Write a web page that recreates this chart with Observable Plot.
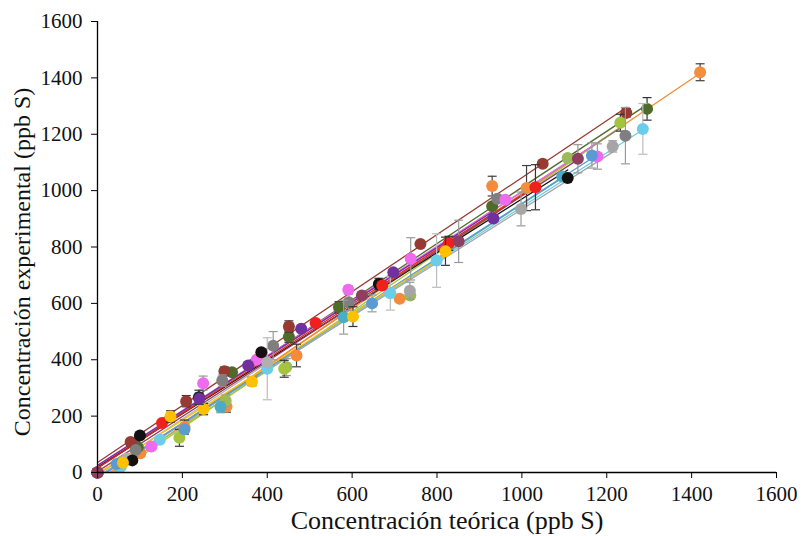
<!DOCTYPE html>
<html>
<head>
<meta charset="utf-8">
<script src="https://cdn.jsdelivr.net/npm/d3@7"></script>
<script src="https://cdn.jsdelivr.net/npm/@observablehq/plot@0.6"></script>
<style>
  html, body { margin: 0; padding: 0; background: #fff; }
  #chart { width: 809px; height: 536px; }
</style>
</head>
<body>
<div id="chart"></div>
<script>
// ---- Data ----
const xTitle = "Concentración teórica (ppb S)";
const yTitle = "Concentración experimental (ppb S)";
const xTicks = [0, 200, 400, 600, 800, 1000, 1200, 1400, 1600];
const yTicks = [0, 200, 400, 600, 800, 1000, 1200, 1400, 1600];

const seriesNames = ["naranja1","naranja2","verdeOscuro","marron","verde","lima","gris","celeste","aqua","grisClaro","rosa","azul","blanco","negro","rojo","amarillo","morado","granate"];
const seriesColors = ["#F28E3C","#F58A3A","#4E6B2A","#963A32","#9BBB59","#A4C43C","#7F7F7F","#6CCDE8","#4BACC6","#A6A6A6","#EE6AEE","#5B9BD5","#B0B0B0","#111111","#F0201C","#FFC000","#7030A0","#8E3E5E"];
const errColors = ["#404040","#404040","#333333","#333333","#999999","#333333","#999999","#BBBBBB","#999999","#999999","#999999","#999999","#999999","#333333","#333333","#333333","#333333","#999999"];

const xValues = [
  [0, 48, 304, 1011, 1420],
  [0, 101, 205, 469, 712, 930],
  [0, 95, 317, 451, 569, 930, 1295],
  [0, 78, 209, 299, 451, 761, 1049, 1246],
  [0, 60, 302, 445, 737, 1108],
  [0, 193, 440, 1232],
  [0, 90, 294, 414, 592, 942, 1244],
  [0, 55, 147, 400, 690, 799, 1285],
  [0, 290, 580, 1095],
  [0, 736, 998, 1214],
  [0, 127, 249, 375, 591, 738, 961, 1178],
  [0, 45, 205, 647, 1165],
  [0, 70, 400],
  [0, 82, 100, 239, 386, 663, 1108],
  [0, 152, 514, 671, 828, 1032],
  [0, 60, 172, 250, 364, 602, 820],
  [0, 240, 355, 480, 697, 933],
  [0, 623, 851, 1132]
];
const yValues = [
  [0, 25, 234, 1009, 1420],
  [0, 68, 161, 415, 616, 1016],
  [0, 90, 356, 482, 586, 945, 1290],
  [0, 108, 253, 359, 518, 811, 1095, 1276],
  [0, 40, 255, 374, 628, 1116],
  [0, 123, 368, 1241],
  [0, 80, 326, 450, 604, 971, 1195],
  [0, 20, 116, 368, 636, 752, 1219],
  [0, 232, 551, 1050],
  [0, 645, 935, 1157],
  [0, 92, 317, 400, 648, 758, 968, 1121],
  [0, 30, 153, 600, 1125],
  [0, 50, 390],
  [0, 43, 131, 267, 427, 669, 1045],
  [0, 176, 530, 663, 813, 1012],
  [0, 35, 199, 225, 323, 553, 785],
  [0, 262, 380, 510, 710, 901],
  [0, 628, 820, 1113]
];
const yErrors = [
  [0, 0, 20, 80, 30],
  [0, 0, 25, 40, 0, 35],
  [0, 0, 0, 20, 20, 0, 40],
  [0, 0, 20, 15, 20, 0, 10, 15],
  [0, 0, 20, 30, 0, 0],
  [0, 30, 30, 30],
  [0, 0, 20, 50, 30, 0, 100],
  [0, 0, 0, 110, 60, 95, 90],
  [0, 20, 60, 0],
  [0, 30, 60, 20],
  [0, 0, 25, 0, 15, 75, 0, 45],
  [0, 0, 0, 30, 45],
  [0, 0, 0],
  [0, 0, 0, 25, 0, 20, 0],
  [0, 0, 0, 0, 25, 80],
  [0, 0, 20, 20, 15, 35, 50],
  [0, 20, 0, 0, 10, 0],
  [0, 0, 75, 50]
];

// ---- Build ----
const series = seriesNames.map((name, i) => ({
  name, color: seriesColors[i], err: errColors[i],
  pts: xValues[i].map((x, j) => ({x, y: yValues[i][j], e: yErrors[i][j]}))
}));

const capSymbol = {
  draw(ctx, size) {
    const w = Math.sqrt(size / Math.PI);
    ctx.moveTo(-w, 0);
    ctx.lineTo(w, 0);
  }
};

const marks = [];
for (const s of series) {
  marks.push(Plot.linearRegressionY(s.pts, {x: "x", y: "y", stroke: s.color, strokeWidth: 1.3, ci: 0, clip: true}));
}
for (const s of series) {
  const withErr = s.pts.filter(d => d.e > 0);
  marks.push(Plot.ruleX(withErr, {x: "x", y1: d => d.y - d.e, y2: d => d.y + d.e, stroke: s.err, strokeWidth: 1.2}));
  marks.push(Plot.dot(withErr, {x: "x", y: d => d.y + d.e, symbol: capSymbol, r: 4.5, stroke: s.err, strokeWidth: 1.2, fill: "none"}));
  marks.push(Plot.dot(withErr, {x: "x", y: d => d.y - d.e, symbol: capSymbol, r: 4.5, stroke: s.err, strokeWidth: 1.2, fill: "none"}));
  marks.push(Plot.dot(s.pts, {x: "x", y: "y", r: 6, fill: s.color, stroke: "none"}));
}

marks.push(Plot.ruleX([0], {stroke: "#000", strokeWidth: 1.3}));
marks.push(Plot.ruleY([0], {stroke: "#000", strokeWidth: 1.3}));
marks.push(Plot.axisX(xTicks, {tickSize: 6, tickPadding: 8, fontSize: 21, label: null, stroke: "#000", tickFormat: d => String(d)}));
marks.push(Plot.axisY(yTicks, {tickSize: 6, tickPadding: 9, fontSize: 21, label: null, stroke: "#000", tickFormat: d => String(d)}));
marks.push(Plot.text([xTitle], {text: d => d, frameAnchor: "bottom", dy: 48, dx: 10, fontSize: 26, lineAnchor: "middle", textAnchor: "middle", fill: "#111"}));
marks.push(Plot.text([yTitle], {text: d => d, frameAnchor: "left", rotate: -90, dx: -75, dy: 15, fontSize: 24, lineAnchor: "middle", textAnchor: "middle", fill: "#111"}));

const chart = Plot.plot({
  width: 809,
  height: 536,
  marginLeft: 97,
  marginRight: 33,
  marginTop: 21,
  marginBottom: 64,
  x: {domain: [0, 1600]},
  y: {domain: [0, 1600]},
  style: {fontFamily: "'Liberation Serif', serif", fontSize: "21px", color: "#111", background: "#fff"},
  marks
});
document.getElementById("chart").appendChild(chart);
</script>
</body>
</html>
